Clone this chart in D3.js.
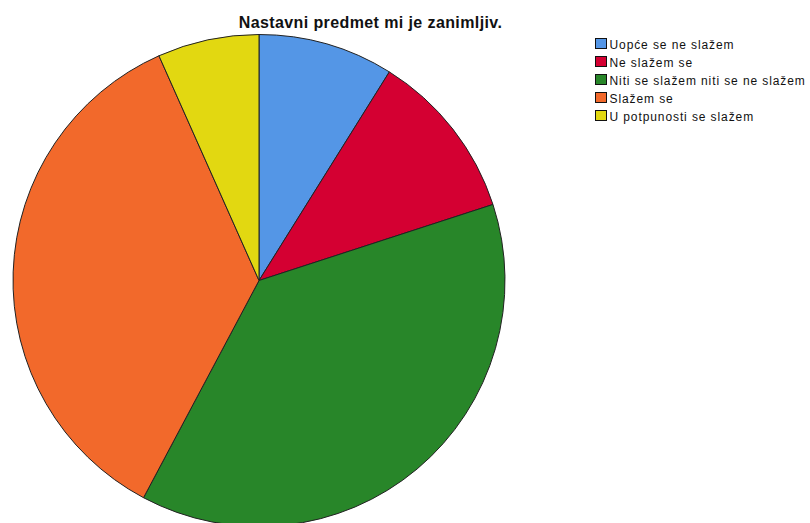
<!DOCTYPE html>
<html><head><meta charset="utf-8">
<script src="https://cdn.jsdelivr.net/npm/d3@7"></script>
<style>body{margin:0;background:#fff}svg{display:block}text{font-family:"Liberation Sans",Arial,sans-serif}</style>
</head><body>
<script>
const title = "Nastavni predmet mi je zanimljiv.";
const categories = ["Uopće se ne slažem","Ne slažem se","Niti se slažem niti se ne slažem","Slažem se","U potpunosti se slažem"];
const values = [4,5,17,16,3];
const colors = ["#5496E6","#D40032","#288629","#F2692B","#E2D811"];

const W=810,H=523;
const svg=d3.select("body").append("svg").attr("width",W).attr("height",H);
const cx=259, cy=280.5, r=246;
const data=categories.map((c,i)=>({c,v:values[i],col:colors[i]}));
const pie=d3.pie().value(d=>d.v).sort(null).startAngle(0).endAngle(2*Math.PI);
const arc=d3.arc().innerRadius(0).outerRadius(r);
svg.append("g").attr("transform",`translate(${cx},${cy})`)
 .selectAll("path").data(pie(data)).join("path")
 .attr("d",arc).attr("fill",d=>d.data.col).attr("stroke","#222").attr("stroke-width",1).attr("stroke-linejoin","round");

svg.append("text").attr("x",370.5).attr("y",28).attr("text-anchor","middle")
 .attr("font-size",16).attr("font-weight","bold").attr("letter-spacing",0.4).attr("fill","#111").text(title);

const leg=svg.append("g").attr("transform","translate(595,38)");
const y=d3.scaleBand().domain(categories).range([0,5*18]);
const li=leg.selectAll("g").data(data).join("g").attr("transform",d=>`translate(0,${y(d.c)})`);
li.append("rect").attr("x",0.5).attr("y",0.5).attr("width",11).attr("height",10).attr("fill",d=>d.col).attr("stroke","#111");
li.append("text").attr("x",14.5).attr("y",10.5).attr("font-size",12).attr("letter-spacing",0.9).attr("fill","#111").text(d=>d.c);
</script>
</body></html>
